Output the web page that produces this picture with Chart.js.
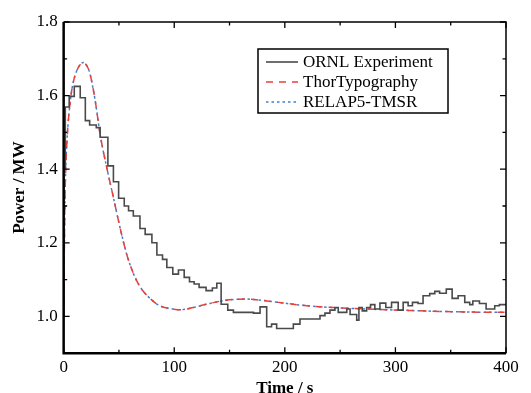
<!DOCTYPE html>
<html>
<head>
<meta charset="utf-8">
<script src="https://cdn.jsdelivr.net/npm/chart.js@4"></script>
<style>
  html, body { margin: 0; padding: 0; background: #fff; overflow: hidden; }
  #wrap { width: 531px; height: 399px; }
</style>
</head>
<body>
<div id="wrap"><canvas id="myChart" width="531" height="399"></canvas></div>
<script>
// ORNL experiment (step curve)
var expTime = [0, 1.5, 5, 9.6, 15, 19.6, 23.5, 29.5, 33, 40, 45, 49.7, 54.8, 58.7, 63, 69, 73.7, 79.8, 84.3, 89.4,
  93.3, 98.7, 103.8, 109, 113.8, 118, 122.5, 128.8, 134.5, 138.5, 142.4, 148.4, 153.5, 171.6, 177.6, 183.6, 188, 192.6, 207.7, 213.7,
  231.8, 236.3, 240.8, 245.3, 248.3, 256, 259, 265, 267, 270, 274, 277.5, 281.4, 286, 291.3, 296.5, 302.5, 307, 311.5, 315.4,
  320.5, 325, 331, 335.6, 340, 346, 351.3, 356.7, 362.7, 367.2, 370, 376, 382, 386.8, 389.8, 394, 400];
var expPower = [1.0, 1.404, 1.569, 1.598, 1.625, 1.594, 1.532, 1.52, 1.513, 1.487, 1.409, 1.366, 1.321, 1.30, 1.287, 1.273, 1.239, 1.223, 1.2, 1.167,
  1.155, 1.133, 1.115, 1.126, 1.106, 1.094, 1.088, 1.079, 1.07, 1.077, 1.09, 1.033, 1.017, 1.011, 1.009, 1.026, 0.972, 0.979, 0.967, 0.979,
  0.993, 1.002, 1.009, 1.017, 1.024, 1.011, 1.02, 1.005, 0.99, 1.024, 1.015, 1.024, 1.032, 1.02, 1.036, 1.024, 1.038, 1.017, 1.038, 1.029,
  1.038, 1.035, 1.056, 1.062, 1.068, 1.063, 1.074, 1.049, 1.056, 1.038, 1.032, 1.042, 1.035, 1.02, 1.02, 1.029, 1.032];

// simulations (ThorTypography and RELAP5-TMSR almost on top of each other)
var simTime = [0, 0.6, 1.5, 3, 6, 9, 13, 18, 22, 24, 28.6, 33, 39, 45, 51, 57, 63, 69, 78, 87,
  99, 105, 117, 129, 147, 165, 184, 202, 220, 244, 274, 304, 334, 364, 400];
var thorPower = [1.0, 1.18, 1.36, 1.476, 1.585, 1.64, 1.675, 1.69, 1.675, 1.657, 1.585, 1.494, 1.404, 1.323, 1.241, 1.169, 1.117, 1.081, 1.049, 1.029,
  1.02, 1.018, 1.024, 1.033, 1.044, 1.047, 1.042, 1.035, 1.029, 1.024, 1.02, 1.017, 1.014, 1.012, 1.011];
var relapPower = [1.0, 1.18, 1.36, 1.476, 1.585, 1.64, 1.675, 1.69, 1.675, 1.657, 1.585, 1.494, 1.404, 1.323, 1.241, 1.169, 1.117, 1.081, 1.049, 1.029,
  1.02, 1.018, 1.024, 1.033, 1.044, 1.047, 1.042, 1.035, 1.029, 1.024, 1.02, 1.017, 1.014, 1.012, 1.011];

var labels = ['ORNL Experiment', 'ThorTypography', 'RELAP5-TMSR'];

function pts(xs, ys) {
  var out = [];
  for (var i = 0; i < xs.length; i++) out.push({x: xs[i], y: ys[i]});
  return out;
}

var serif = '"Liberation Serif", "Times New Roman", serif';

// inward ticks on all four sides + frame
var frame = {
  id: 'frame',
  afterDraw: function(chart) {
    var c = chart.ctx, a = chart.chartArea;
    var xs = chart.scales.x, ys = chart.scales.y;
    c.save();
    c.strokeStyle = '#000';
    c.lineWidth = 1.5;
    c.beginPath();
    c.moveTo(a.left, a.top); c.lineTo(a.right, a.top); c.lineTo(a.right, a.bottom);
    c.stroke();
    c.lineWidth = 2.5;
    c.beginPath();
    c.moveTo(a.left, a.top); c.lineTo(a.left, a.bottom); c.lineTo(a.right, a.bottom);
    c.stroke();
    c.lineWidth = 1.3;
    xs.ticks.forEach(function(t) {
      var p = xs.getPixelForValue(t.value);
      var len = (t.value % 100 === 0) ? 6 : 3.5;
      c.beginPath();
      c.moveTo(p, a.bottom); c.lineTo(p, a.bottom - len);
      c.moveTo(p, a.top); c.lineTo(p, a.top + len);
      c.stroke();
    });
    ys.ticks.forEach(function(t) {
      var p = ys.getPixelForValue(t.value);
      var len = (Math.round(t.value * 10) % 2 === 0) ? 6 : 3.5;
      c.beginPath();
      c.moveTo(a.left, p); c.lineTo(a.left + len, p);
      c.moveTo(a.right, p); c.lineTo(a.right - len, p);
      c.stroke();
    });
    c.restore();
  }
};

// boxed legend inside the plot
var boxLegend = {
  id: 'boxLegend',
  afterDraw: function(chart) {
    var c = chart.ctx;
    var bx = 258, by = 49, bw = 190, bh = 64;
    c.save();
    c.fillStyle = '#fff';
    c.fillRect(bx, by, bw, bh);
    c.strokeStyle = '#000';
    c.lineWidth = 1.5;
    c.strokeRect(bx, by, bw, bh);
    c.font = '17px ' + serif;
    c.textBaseline = 'middle';
    chart.data.datasets.forEach(function(ds, i) {
      var y = by + 13 + i * 20;
      c.strokeStyle = ds.borderColor;
      c.lineWidth = ds.borderWidth;
      c.setLineDash(ds.borderDash || []);
      c.beginPath();
      c.moveTo(bx + 8, y); c.lineTo(bx + 40, y);
      c.stroke();
      c.setLineDash([]);
      c.fillStyle = '#000';
      c.fillText(ds.label, bx + 45, y + 1);
    });
    c.restore();
  }
};

var ctx = document.getElementById('myChart').getContext('2d');
var chart = new Chart(ctx, {
  type: 'line',
  data: {
    datasets: [{
      label: labels[0],
      data: pts(expTime, expPower),
      borderColor: '#4a4a4a',
      borderWidth: 1.6,
      stepped: 'after',
      pointRadius: 0
    }, {
      label: labels[1],
      data: pts(simTime, thorPower),
      borderColor: '#e8403a',
      borderWidth: 1.5,
      borderDash: [7, 6],
      cubicInterpolationMode: 'monotone',
      pointRadius: 0
    }, {
      label: labels[2],
      data: pts(simTime, relapPower),
      borderColor: '#3f7fd0',
      borderWidth: 1.5,
      borderDash: [2.5, 3],
      borderDashOffset: 3,
      cubicInterpolationMode: 'monotone',
      pointRadius: 0
    }]
  },
  options: {
    responsive: false,
    animation: false,
    devicePixelRatio: 1,
    layout: { padding: { top: 22, right: 25, left: 9, bottom: 0 } },
    plugins: { legend: { display: false }, tooltip: { enabled: false } },
    scales: {
      x: {
        type: 'linear',
        min: 0, max: 400,
        grid: { display: false, drawTicks: false },
        border: { display: false },
        ticks: {
          stepSize: 50, padding: 4, color: '#000', maxRotation: 0, autoSkip: false,
          font: { family: serif, size: 17 },
          callback: function(v) { return v % 100 === 0 ? String(v) : ''; }
        },
        title: { display: true, text: 'Time / s', color: '#000', padding: { top: -3, bottom: 0 },
          font: { family: serif, size: 17, weight: 'bold' } }
      },
      y: {
        min: 0.9, max: 1.8,
        grid: { display: false, drawTicks: false },
        border: { display: false },
        ticks: {
          stepSize: 0.1, padding: 6, color: '#000', autoSkip: false,
          font: { family: serif, size: 17 },
          callback: function(v) { return Math.round(v * 10) % 2 === 0 ? v.toFixed(1) : ''; }
        },
        title: { display: true, text: 'Power / MW', color: '#000', padding: { top: 0, bottom: 1 },
          font: { family: serif, size: 17, weight: 'bold' } }
      }
    }
  },
  plugins: [frame, boxLegend]
});
</script>
</body>
</html>
